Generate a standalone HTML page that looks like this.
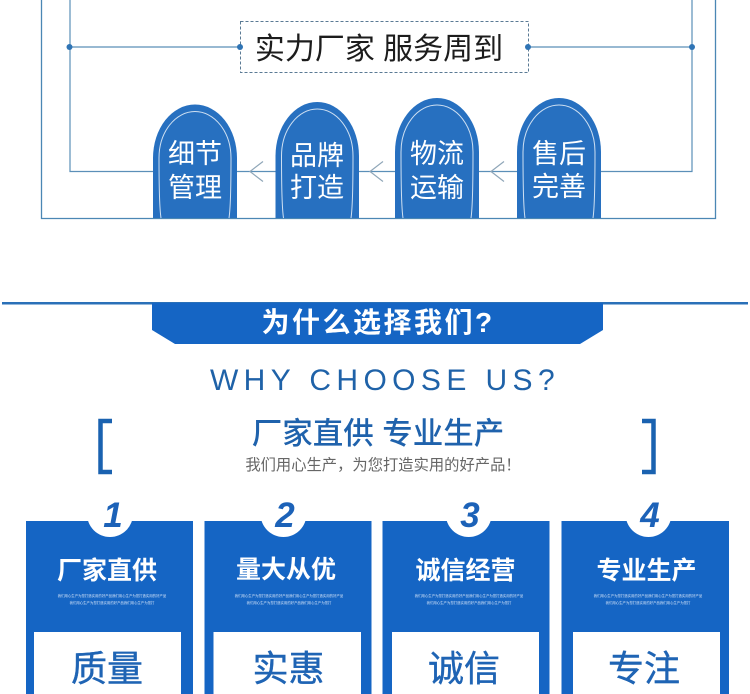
<!DOCTYPE html>
<html lang="zh">
<head>
<meta charset="utf-8">
<style>
html,body{margin:0;padding:0;background:#fff;width:750px;height:694px;overflow:hidden}
svg{display:block}
text{font-family:"Liberation Sans","Noto Sans CJK SC",sans-serif;text-anchor:middle}
.pill{fill:#fff;font-size:27px}
.ct{fill:#fff;font-size:25px;font-weight:700}
.big{fill:#1f64b4;font-size:36px;stroke:#1f64b4;stroke-width:.4}
.num{fill:#1c62b8;font-size:35px;font-weight:700;font-style:italic}
.tiny{fill:#cfe0f6;font-size:3.4px}
</style>
</head>
<body>
<svg width="750" height="694" viewBox="0 0 750 694" xmlns="http://www.w3.org/2000/svg">
<rect width="750" height="694" fill="#fff"/>
<!-- frame -->
<path d="M41.5 0V218.5H715.5V0" fill="none" stroke="#4b87b4" stroke-width="1.3"/>
<path d="M70 0V171.5H692V0" fill="none" stroke="#5b8fb8" stroke-width="1.2"/>
<path d="M69 47H240M528 47H692" fill="none" stroke="#5b8fb8" stroke-width="1.2"/>
<rect x="240.5" y="21.5" width="288" height="51" fill="#fff" stroke="#5a7a94" stroke-width="1" stroke-dasharray="3 2"/>
<circle cx="69.5" cy="47" r="3" fill="#2f74b5"/>
<circle cx="240" cy="47" r="3" fill="#2f74b5"/>
<circle cx="528" cy="47" r="3" fill="#2f74b5"/>
<circle cx="692" cy="47" r="3" fill="#2f74b5"/>
<text x="379" y="59" font-size="30" fill="#1c1c1c">实力厂家 服务周到</text>
<!-- chevrons -->
<path d="M263 161.5L250 171.5L263 181.5M383 161.5L370 171.5L383 181.5M504 161.5L491 171.5L504 181.5" fill="none" stroke="#8fa6b8" stroke-width="1.2"/>
<!-- pills -->
<g fill="#2770c0">
<path d="M153 218V158A42 53.5 0 0 1 237 158V218Z"/>
<path d="M275.5 218V156A41.75 54 0 0 1 359 156V218Z"/>
<path d="M395 218V152A42 54 0 0 1 479 152V218Z"/>
<path d="M517 218V152A42 54 0 0 1 601 152V218Z"/>
</g>
<g fill="none" stroke="#cfe0f2" stroke-width="1">
<path d="M161 218Q159 205 159 158A36 46.5 0 0 1 231 158Q231 205 229 218"/>
<path d="M283.5 218Q281.5 205 281.5 156A35.75 47 0 0 1 353 156Q353 205 351 218"/>
<path d="M403 218Q401 205 401 152A36 47 0 0 1 473 152Q473 205 471 218"/>
<path d="M525 218Q523 205 523 152A36 47 0 0 1 595 152Q595 205 593 218"/>
</g>
<g>
<text class="pill" x="195" y="163">细节</text><text class="pill" x="195" y="197">管理</text>
<text class="pill" x="317" y="165">品牌</text><text class="pill" x="317" y="197">打造</text>
<text class="pill" x="437" y="163">物流</text><text class="pill" x="437" y="197">运输</text>
<text class="pill" x="559" y="163">售后</text><text class="pill" x="559" y="196">完善</text>
</g>
<!-- section 2 header -->
<rect x="2" y="302" width="746" height="2.5" fill="#2a70b8"/>
<path d="M152 303H603V330L580 344H175L152 330Z" fill="#1565c4"/>
<text x="378" y="332" font-size="28" font-weight="700" fill="#fff" letter-spacing="2.5">为什么选择我们?</text>
<text x="385" y="390" font-size="30" fill="#1f62a8" letter-spacing="5.4">WHY CHOOSE US?</text>
<path d="M112 421H100.5V472H112" fill="none" stroke="#1a62b0" stroke-width="4.5"/>
<path d="M642 421H653.5V472H642" fill="none" stroke="#1a62b0" stroke-width="4.5"/>
<text x="378" y="444" font-size="30.5" fill="#1f62ac" font-weight="500">厂家直供 专业生产</text>
<text x="383" y="470" font-size="15.3" fill="#666">我们用心生产，为您打造实用的好产品！</text>
<!-- cards -->
<g fill="#1565c4">
<rect x="26" y="521" width="167" height="173"/>
<rect x="204.5" y="521" width="167" height="173"/>
<rect x="382.5" y="521" width="167" height="173"/>
<rect x="561.5" y="521" width="167.5" height="173"/>
</g>
<g fill="#fff">
<circle cx="110" cy="514" r="23"/>
<circle cx="283.5" cy="514" r="23"/>
<circle cx="468.7" cy="514" r="23"/>
<circle cx="648.5" cy="514" r="23"/>
<rect x="34" y="632" width="147" height="62"/>
<rect x="213.5" y="632" width="147.5" height="62"/>
<rect x="392" y="632" width="147" height="62"/>
<rect x="573" y="632" width="147" height="62"/>
</g>
<text class="num" x="113" y="527">1</text>
<text class="num" x="285" y="527">2</text>
<text class="num" x="470" y="527">3</text>
<text class="num" x="650" y="527">4</text>
<text class="ct" x="107" y="579">厂家直供</text>
<text class="ct" x="286" y="578">量大从优</text>
<text class="ct" x="465.5" y="579">诚信经营</text>
<text class="ct" x="646.5" y="579">专业生产</text>
<g>
<text class="tiny" x="112" y="597">我们用心生产为您打造实用的好产品我们用心生产为您打造实用的好产品</text>
<text class="tiny" x="112" y="604">我们用心生产为您打造实用的好产品我们用心生产为您打</text>
<text class="tiny" x="289" y="597">我们用心生产为您打造实用的好产品我们用心生产为您打造实用的好产品</text>
<text class="tiny" x="289" y="604">我们用心生产为您打造实用的好产品我们用心生产为您打</text>
<text class="tiny" x="469" y="597">我们用心生产为您打造实用的好产品我们用心生产为您打造实用的好产品</text>
<text class="tiny" x="469" y="604">我们用心生产为您打造实用的好产品我们用心生产为您打</text>
<text class="tiny" x="648" y="597">我们用心生产为您打造实用的好产品我们用心生产为您打造实用的好产品</text>
<text class="tiny" x="648" y="604">我们用心生产为您打造实用的好产品我们用心生产为您打</text>
</g>
<text class="big" x="107" y="681">质量</text>
<text class="big" x="288.5" y="681">实惠</text>
<text class="big" x="464" y="681">诚信</text>
<text class="big" x="644" y="681">专注</text>
</svg>
</body>
</html>
